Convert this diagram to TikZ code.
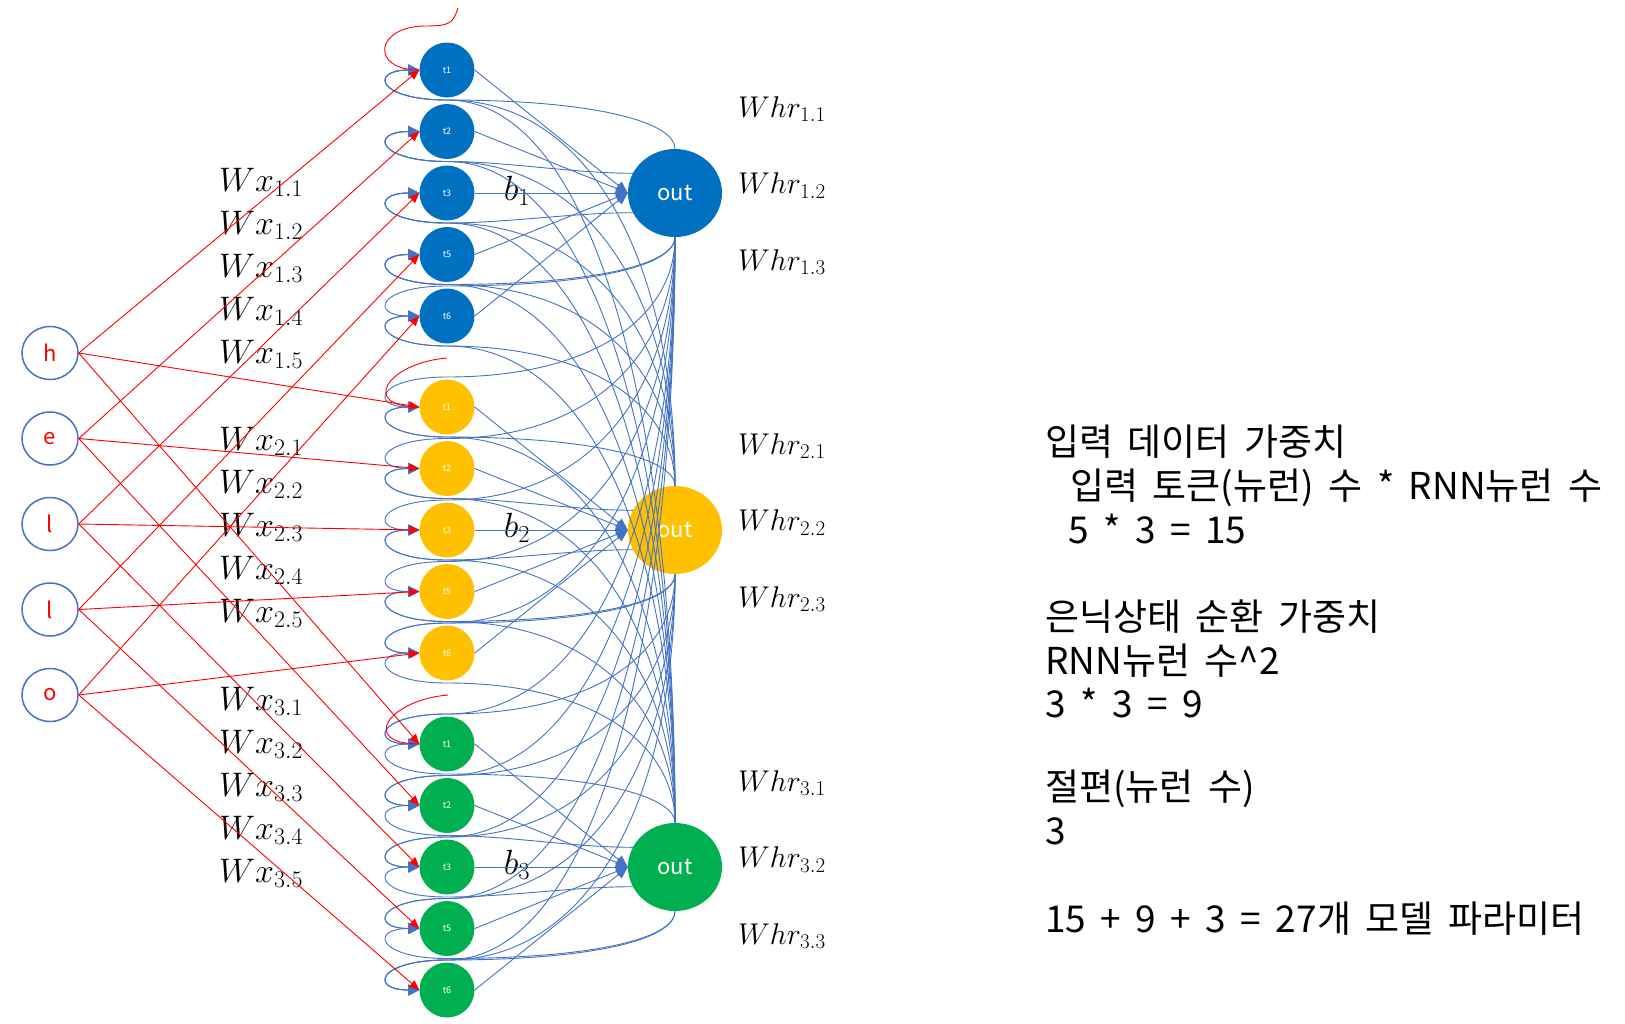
\RequirePackage{fix-cm}
\documentclass[tikz,border=0pt]{standalone}
\usepackage[no-math]{fontspec}
\setmainfont{Noto Sans CJK KR}[WordSpace=1.75]
\usepackage{tikz}
\usetikzlibrary{positioning, calc, arrows.meta, shapes.geometric}
\definecolor{hblue}{HTML}{0070C0}
\definecolor{hyellow}{HTML}{FFC000}
\definecolor{hgreen}{HTML}{00B050}
\definecolor{lineblue}{HTML}{4472C4}
\tikzset{inp/.style={ellipse, draw=lineblue, line width=1.5pt, minimum width=56pt, minimum height=53pt, inner sep=0pt, text=red, font={\fontsize{22}{26}\selectfont}}}
\tikzset{hid/.style={circle, minimum size=55pt, inner sep=0pt, text=white, font={\fontsize{9}{11}\selectfont}}}
\tikzset{outn/.style={ellipse, minimum width=94pt, minimum height=88pt, inner sep=0pt, text=white, font={\fontsize{22}{26}\selectfont}}}
\tikzset{wire/.style={red, line width=0.9pt, -{Triangle[length=10pt,width=8pt]}}}
\tikzset{initline/.style={red, line width=0.9pt}}
\tikzset{feed/.style={lineblue, line width=0.9pt, -{Triangle[length=12pt,width=10pt]}}}
\tikzset{recur/.style={lineblue, line width=0.9pt, -{Triangle[length=11pt,width=11pt]}}}
\tikzset{wxlab/.style={anchor=base west, inner sep=0pt, font={\fontsize{34}{40}\selectfont}}}
\tikzset{whrlab/.style={anchor=base west, inner sep=0pt, font={\fontsize{30}{36}\selectfont}}}
\tikzset{kor/.style={anchor=base west, inner sep=0pt, font={\fontsize{37}{44}\selectfont}}}

\begin{document}
\begin{tikzpicture}[x=1pt, y=-1pt]
  \useasboundingbox (0,0) rectangle (1625,1023);
  \fill[white] (0,0) rectangle (1625,1023);

  % input tokens
  \foreach \c [count=\i] in {h,e,l,l,o}
    \node[inp] (in\i) at (50, {353+85.5*(\i-1)}) {\c};

  % hidden states, one colour per RNN neuron
  \foreach \g/\col in {1/hblue,2/hyellow,3/hgreen}{
    \foreach \j/\t in {1/1,2/2,3/3,4/5,5/6}
      \node[hid, fill=\col] (h\g\j) at (447, {70+337*(\g-1)+61.5*(\j-1)}) {t\t};
    \node[outn, fill=\col] (o\g) at ($(h\g3)+(228,0)$) {out};
    \node[font={\fontsize{35}{40}\selectfont}] (b\g) at ($(h\g3)+(70,-2)$) {$b_{\g}$};
  }

  % weight labels
  \foreach \g in {1,2,3}
    \foreach \i in {1,...,5}
      \node[wxlab] (wx\g\i) at (219, {191+259.5*(\g-1)+43*(\i-1)}) {$Wx_{\g.\i}$};
  \foreach \g in {1,2,3}
    \foreach \m in {1,2,3}
      \node[whrlab] (whr\g\m) at (738, {117+337*(\g-1)+76.5*(\m-1)}) {$Whr_{\g.\m}$};

  % recurrent connections out -> hidden
  \foreach \k in {1,2,3}{
    \foreach \g in {1,2,3}{
      \foreach \j in {1,...,5}{
        \pgfmathsetmacro\hy{70+337*(\g-1)+61.5*(\j-1)}
        \pgfmathsetmacro\oy{192+337*(\k-1)}
        \def\anc{south}\def\side{-30}\def\ay{44}\def\hx{0}\def\hb{150}
        \ifnum\g<\k \def\anc{north}\def\side{30}\def\ay{-44}\fi
        \ifnum\g=\k
          \def\side{30}
          \ifcase\j\or \def\anc{north}\def\ay{-44}\or \def\anc{155}\def\hx{-60}\def\hb{60}\or \def\anc{205}\def\hx{-60}\def\hb{60}\or \def\anc{south}\or \def\anc{south}\def\side{-30}\fi
        \fi
        \pgfmathsetmacro\cv{0.55*(\hy+\side-\oy-\ay)}
        \ifnum\hx=0 \else \def\cv{0}\fi
        \draw[recur] (o\k.\anc) .. controls +(\hx,\cv) and +(\hb,0) .. ($(h\g\j)+(0,\side)$)
          .. controls +(-70,0) and +(-50,0) .. (h\g\j.west);
      }}}

  % hidden -> out
  \foreach \g in {1,2,3}
    \foreach \j in {1,...,5}
      \draw[feed] (h\g\j.east) -- (o\g.west);

  % initial state
  \coordinate (r1) at (458,8);
  \coordinate (r2) at ($(h21)+(0,-49)$);
  \coordinate (r3) at ($(h31)+(1,-49)$);
  \draw[initline] (r1) .. controls +(-5,15) and +(25,0) .. ($(h11.west)+(6,-44)$)
    .. controls +(-50,0) and +(-50,0) .. (h11.west);
  \draw[initline] (r2) .. controls +(-60,5) and +(-60,0) .. (h21.west);
  \draw[initline] (r3) .. controls +(-60,5) and +(-60,0) .. (h31.west);

  % input weights
  \foreach \i in {1,...,5}
    \foreach \g in {1,2,3}
      \draw[wire] (in\i.east) -- (h\g\i.west);

  % parameter count
  \node[kor] (k1) at (1045,455) {입력 데이터 가중치};
  \node[kor] (k2) at (1070,499) {입력 토큰(뉴런) 수 * RNN뉴런 수};
  \node[kor] (k3) at (1068,543) {5 * 3 = 15};
  \node[kor] (k4) at (1045,630) {은닉상태 순환 가중치};
  \node[kor] (k5) at (1045,674) {RNN뉴런 수\textasciicircum 2};
  \node[kor] (k6) at (1045,717) {3 * 3 = 9};
  \node[kor] (k7) at (1045,800) {절편(뉴런 수)};
  \node[kor] (k8) at (1045,844) {3};
  \node[kor] (k9) at (1045,932) {15 + 9 + 3 = 27개 모델 파라미터};
\end{tikzpicture}
\end{document}
